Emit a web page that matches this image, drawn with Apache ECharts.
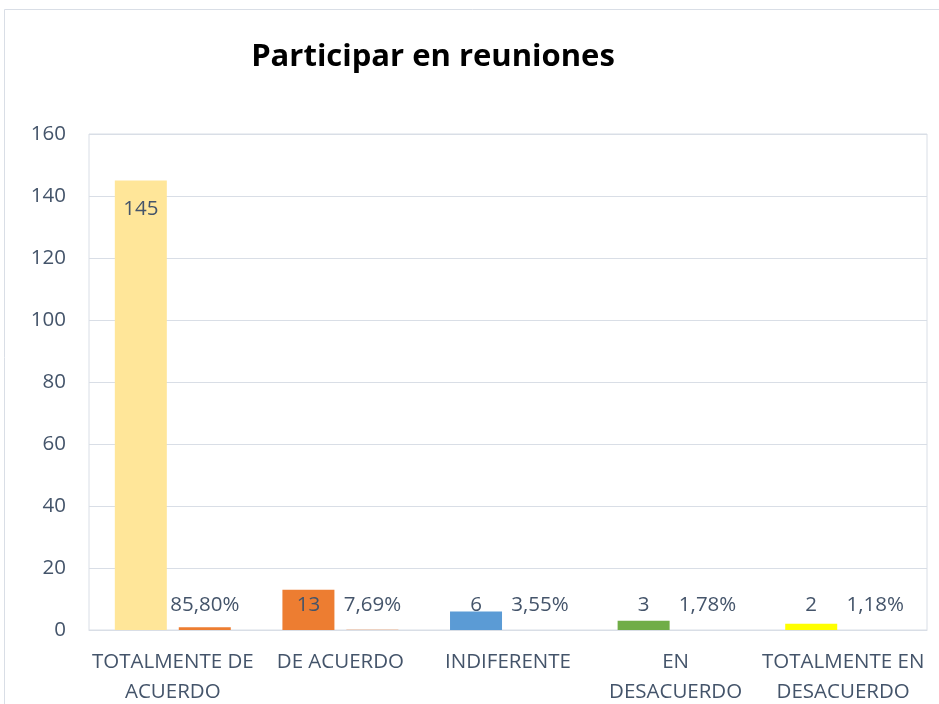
<!DOCTYPE html>
<html><head><meta charset="utf-8">
<script src="https://cdn.jsdelivr.net/npm/echarts@6/dist/echarts.min.js"></script>
<style>html,body{margin:0;padding:0;background:#fff}#c{width:939px;height:704px}</style>
</head><body><div id="c"></div>
<script>
const categories = ['TOTALMENTE DE\nACUERDO', 'DE ACUERDO', 'INDIFERENTE', 'EN\nDESACUERDO', 'TOTALMENTE EN\nDESACUERDO'];
const counts = [145, 13, 6, 3, 2];
const shares = [0.8580, 0.0769, 0.0355, 0.0178, 0.0118];
const yTicks = [0, 20, 40, 60, 80, 100, 120, 140, 160];
const barColors = ['#FFE699', '#ED7D31', '#5B9BD5', '#70AD47', '#FFFF00'];

const FONT = '"Open Sans", sans-serif';
const TXT = '#44546A';
const GRID = '#D9DEE6';

const chart = echarts.init(document.getElementById('c'), null, {renderer: 'canvas'});
chart.setOption({
  animation: false,
  title: {
    text: 'Participar en reuniones', left: 428, top: 37, textAlign: 'center',
    textStyle: {fontFamily: FONT, fontSize: 31, fontWeight: 'bold', color: '#000'}
  },
  graphic: [{type: 'rect', shape: {x: 4.5, y: 9.5, width: 1000, height: 1000}, style: {fill: 'none', stroke: GRID, lineWidth: 1}, silent: true}],
  grid: {left: 89, right: 12, top: 134, bottom: 74, show: true, borderColor: GRID, borderWidth: 1, containLabel: false, outerBoundsMode: 'none'},
  xAxis: {
    type: 'category', data: categories,
    axisLine: {lineStyle: {color: GRID}}, axisTick: {show: false},
    axisLabel: {interval: 0, fontFamily: FONT, fontSize: 20.5, color: TXT, lineHeight: 30, margin: 17}
  },
  yAxis: {
    type: 'value', min: yTicks[0], max: yTicks[yTicks.length - 1], interval: 20,
    axisLine: {show: false}, axisTick: {show: false},
    splitLine: {lineStyle: {color: GRID}},
    axisLabel: {fontFamily: FONT, fontSize: 20.5, color: TXT, margin: 23}
  },
  series: [
    {
      type: 'bar', barWidth: 52, barGap: '23%',
      data: counts.map((v, i) => ({
        value: v,
        itemStyle: {color: barColors[i]},
        label: v > 100 ? {position: 'insideTop', distance: 18} : {position: 'insideBottom', distance: 14}
      })),
      label: {show: true, fontFamily: FONT, fontSize: 20.5, color: TXT}
    },
    {
      type: 'bar', barWidth: 52,
      itemStyle: {color: '#ED7D31'},
      data: shares,
      label: {
        show: true, position: 'insideBottom', distance: 14,
        fontFamily: FONT, fontSize: 20.5, color: TXT,
        formatter: p => (p.value * 100).toFixed(2).replace('.', ',') + '%'
      }
    }
  ]
});
</script></body></html>
